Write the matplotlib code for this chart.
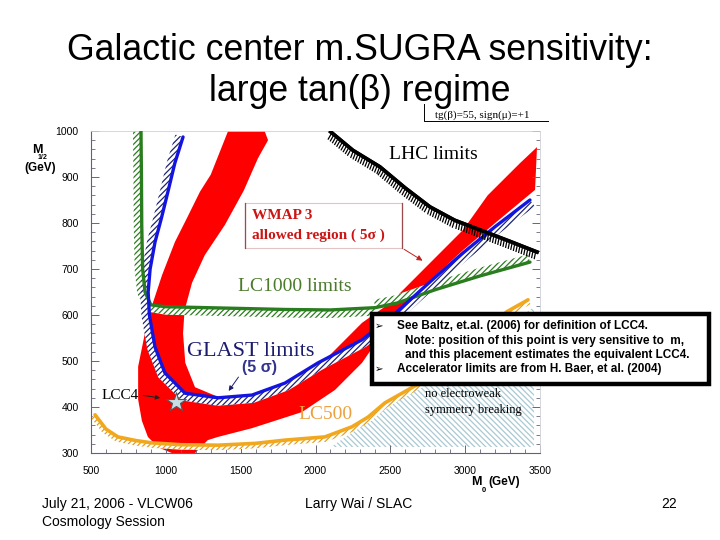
import numpy as np
import matplotlib
matplotlib.use('Agg')
import matplotlib.pyplot as plt
from matplotlib import patheffects as pe
from matplotlib.patches import Rectangle

# WMAP 3 allowed band (outer edge then inner edge)
wmap_outer_x = [1416, 1300, 1228, 1140, 1061, 975, 915, 860, 815, 815, 840, 880, 950, 1040, 1195,
                1280, 1349, 1576, 1910, 2130, 2311, 2545, 2765, 2986, 3230, 3467, 3480]
wmap_outer_y = [1000, 905, 868, 810, 759, 687, 628, 560, 488, 416, 370, 335, 312, 300, 300,
                328, 335, 354, 389, 437, 496, 607, 675, 741, 808, 872, 965]
wmap_inner_x = [3366, 3150, 2986, 2765, 2498, 2311, 2017, 1796, 1600, 1349, 1195, 1130, 1115,
                1125, 1175, 1260, 1395, 1520, 1616, 1683, 1660]
wmap_inner_y = [930, 860, 785, 713, 626, 583, 487, 443, 425, 422, 443, 496, 560,
                610, 670, 730, 796, 870, 941, 980, 1000]

glast_x = [1115, 1060, 1014, 970, 928, 895, 882, 890, 928, 994, 1128, 1349, 1576, 1796, 2017,
           2311, 2545, 2765, 2986, 3200, 3433]
glast_y = [987, 930, 868, 810, 759, 700, 650, 600, 530, 474, 430, 420, 426, 452, 496,
           546, 607, 672, 735, 792, 850]

lc1000_x = [834, 837, 839, 845, 861, 900, 1000, 1400, 1800, 2100, 2400, 2545, 2800, 3100, 3433]
lc1000_y = [1000, 900, 796, 700, 650, 622, 618, 615, 612, 611, 616, 626, 655, 685, 715]

lhc_x = [2102, 2250, 2431, 2600, 2765, 2930, 3099, 3300, 3480]
lhc_y = [998, 958, 922, 876, 835, 806, 785, 760, 737]

lc500_x = [527, 600, 680, 800, 908, 1100, 1349, 1600, 1796, 2063, 2244, 2351, 2464, 2698,
           3000, 3278, 3420]
lc500_y = [383, 352, 335, 327, 322, 318, 317, 321, 328, 335, 357, 378, 409, 452,
           530, 607, 633]

no_ewsb_x = [2102, 3460, 3460]
no_ewsb_y = [314, 314, 617]

lcc4_x = [1067]
lcc4_y = [411]

xticks = [500, 1000, 1500, 2000, 2500, 3000, 3500]
yticks = [300, 400, 500, 600, 700, 800, 900, 1000]

SERIF = 'Liberation Serif'
SANS = 'Liberation Sans'
plt.rcParams['font.family'] = [SANS, 'DejaVu Sans']
plt.rcParams['hatch.linewidth'] = 0.9


def hatch_band(ax, xs, ys, width, side, color, hatch, zorder):
    # band of hatching on one side of a curve, width in pixels
    pts = ax.transData.transform(np.column_stack([xs, ys]))
    d = np.gradient(pts, axis=0)
    d /= np.linalg.norm(d, axis=1)[:, None]
    n = np.column_stack([d[:, 1], -d[:, 0]]) * side
    off = pts + n * width
    poly = ax.transData.inverted().transform(np.vstack([pts, off[::-1]]))
    ax.fill(poly[:, 0], poly[:, 1], facecolor='white', edgecolor=color,
            hatch=hatch, linewidth=0, zorder=zorder)


fig = plt.figure(figsize=(7.2, 5.4), dpi=100)
ax = fig.add_axes([91 / 720, 1 - 453 / 540, 449 / 720, 322 / 540])
ax.set_xlim(500, 3500)
ax.set_ylim(300, 1000)

# WMAP band
ax.fill(wmap_outer_x + wmap_inner_x, wmap_outer_y + wmap_inner_y,
        color='#ff0000', linewidth=0, zorder=1)

# no EWSB region
ax.fill(no_ewsb_x, no_ewsb_y, facecolor='white', edgecolor='#a9c9d2',
        hatch='\\\\\\\\\\\\', linewidth=0, zorder=1.5)

# LC500
hatch_band(ax, lc500_x, lc500_y, 5, 1, '#e0a020', '//////', 2)
ax.plot(lc500_x, lc500_y, color='#f2a81e', lw=2.6, solid_capstyle='round', zorder=3)

# LC1000
hatch_band(ax, lc1000_x[:11], lc1000_y[:11], 8, 1, '#2a7d1e', '//////', 2)
hatch_band(ax, lc1000_x[10:], lc1000_y[10:], 8, -1, '#2a7d1e', '//////', 2)
ax.plot(lc1000_x, lc1000_y, color='#2a7d1e', lw=2.4, solid_capstyle='round', zorder=3)

# GLAST
hatch_band(ax, glast_x, glast_y, 8, 1, '#1c2470', '//////', 2.5)
ax.plot(glast_x, glast_y, color='#1414e0', lw=2.4, solid_capstyle='round', zorder=3.5)

# LHC
ax.plot(lhc_x, lhc_y, color='black', lw=2.6, zorder=3.5,
        path_effects=[pe.withTickedStroke(angle=-80, spacing=2.0, length=2.6, linewidth=0.9),
                      pe.Normal()])

# LCC4 point
ax.plot(lcc4_x, lcc4_y, marker='*', markersize=15, markerfacecolor='#c6dde3',
        markeredgecolor='#555555', markeredgewidth=0.8, linestyle='none', zorder=4)

# labels in the plot
ax.text(2491, 948, 'LHC limits', family=SERIF, fontsize=14, va='center', zorder=5)
ax.text(1576, 817, 'WMAP 3', family=SERIF, fontsize=11, weight='bold', color='#cc1414',
        va='center', zorder=5)
ax.text(1576, 774, 'allowed region ( 5σ )', family=SERIF, fontsize=11, weight='bold',
        color='#cc1414', va='center', zorder=5)
ax.add_patch(Rectangle((1529, 746), 2576 - 1529, 843 - 746, facecolor='none',
                       edgecolor='#e2c4c4', lw=0.8, zorder=4))
ax.plot([1529, 1529], [746, 843], color='#9a4a4a', lw=0.9, zorder=4)
ax.plot([2576, 2576], [746, 843], color='#9a4a4a', lw=0.9, zorder=4)
ax.annotate('', xy=(2731, 715), xytext=(2576, 746),
            arrowprops=dict(arrowstyle='-|>', color='#c02020', lw=0.7, mutation_scale=8), zorder=5)
ax.text(1482, 661, 'LC1000 limits', family=SERIF, fontsize=14, color='#4a7a2a',
        va='center', zorder=5)
ax.text(1141, 520, 'GLAST limits', family=SERIF, fontsize=16, color='#1c1c6e',
        va='center', zorder=5)
ax.text(1509, 485, '(5 σ)', fontsize=11.5, weight='bold', color='#34348e',
        va='center', zorder=5)
ax.annotate('', xy=(1409, 430), xytext=(1496, 470),
            arrowprops=dict(arrowstyle='-|>', color='#1c1c6e', lw=0.7, mutation_scale=7), zorder=5)
ax.text(573, 426, 'LCC4', family=SERIF, fontsize=11, va='center', zorder=5)
ax.annotate('', xy=(981, 419), xytext=(830, 426),
            arrowprops=dict(arrowstyle='-|>', color='#222222', lw=0.7, mutation_scale=7), zorder=5)
ax.text(1883, 383, 'LC500', family=SERIF, fontsize=14, color='#eca040',
        va='center', zorder=5)
ax.text(2732, 428, 'no electroweak', family=SERIF, fontsize=9, va='center', zorder=5)
ax.text(2732, 393, 'symmetry breaking', family=SERIF, fontsize=9, va='center', zorder=5)

# tg(beta) header above the frame
ax.text(2800, 1034, 'tg(β)=55, sign(μ)=+1', family=SERIF, fontsize=8, va='center',
        clip_on=False)
ax.plot([2725, 2725, 3553], [1058, 1022, 1022], color='black', lw=0.7, clip_on=False)

# axes styling
ax.set_xticks(xticks)
ax.set_yticks(yticks)
ax.set_xticks(np.arange(500, 3501, 100), minor=True)
ax.set_yticks(np.arange(300, 1001, 20), minor=True)
ax.tick_params(which='both', direction='in', right=True, top=False, colors='#666677',
               labelcolor='black', labelsize=7.5, pad=9)
ax.tick_params(which='major', length=6, width=0.7)
ax.tick_params(which='minor', length=3, width=0.6)
for s in ['left', 'bottom']:
    ax.spines[s].set_color('#606080')
    ax.spines[s].set_linewidth(0.8)
for s in ['right', 'top']:
    ax.spines[s].set_color('#d0d0d8')
    ax.spines[s].set_linewidth(0.6)

# axis titles
fig.text(37 / 720, 1 - 150 / 540, 'M', fontsize=9, weight='bold', ha='center', va='center')
fig.text(43 / 720, 1 - 158 / 540, '1/2', fontsize=5, weight='bold', ha='center', va='center')
fig.text(40 / 720, 1 - 168 / 540, '(GeV)', fontsize=8.5, weight='bold', ha='center', va='center')
fig.text(471 / 720, 1 - 482 / 540, 'M', fontsize=9, weight='bold', ha='left', va='center')
fig.text(482 / 720, 1 - 490 / 540, '0', fontsize=5.5, weight='bold', ha='left', va='center')
fig.text(488 / 720, 1 - 482 / 540, '(GeV)', fontsize=8.5, weight='bold', ha='left', va='center')

# slide title
fig.text(0.5, 1 - 60 / 540, 'Galactic center m.SUGRA sensitivity:', fontsize=25.7,
         ha='center', va='baseline')
fig.text(0.5, 1 - 101 / 540, 'large tan(β) regime', fontsize=25.7, ha='center', va='baseline')

# note box
fig.patches.append(Rectangle((372 / 720, 1 - 384 / 540), 337 / 720, 70 / 540,
                             transform=fig.transFigure, facecolor='white', edgecolor='black',
                             lw=3.2, zorder=10))
note_font = [SANS, 'DejaVu Sans']
fig.text(372 / 720, 1 - 326 / 540, ' ➢', fontsize=7.5, family=note_font, va='center', zorder=11)
fig.text(397 / 720, 1 - 326 / 540, 'See Baltz, et.al. (2006) for definition of LCC4.',
         fontsize=8.5, weight='bold', va='center', zorder=11)
fig.text(405 / 720, 1 - 341 / 540, 'Note: position of this point is very sensitive to  m,',
         fontsize=8.5, weight='bold', va='center', zorder=11)
fig.text(405 / 720, 1 - 355 / 540, 'and this placement estimates the equivalent LCC4.',
         fontsize=8.5, weight='bold', va='center', zorder=11)
fig.text(372 / 720, 1 - 369 / 540, ' ➢', fontsize=7.5, family=note_font, va='center', zorder=11)
fig.text(397 / 720, 1 - 369 / 540, 'Accelerator limits are from H. Baer, et al. (2004)',
         fontsize=8.5, weight='bold', va='center', zorder=11)

# footer
fig.text(42 / 720, 1 - 508 / 540, 'July 21, 2006 - VLCW06', fontsize=10, va='baseline')
fig.text(42 / 720, 1 - 526 / 540, 'Cosmology Session', fontsize=10, va='baseline')
fig.text(305 / 720, 1 - 508 / 540, 'Larry Wai / SLAC', fontsize=10, va='baseline')
fig.text(677 / 720, 1 - 508 / 540, '22', fontsize=10, ha='right', va='baseline')

fig.savefig('out.png', dpi=100)
